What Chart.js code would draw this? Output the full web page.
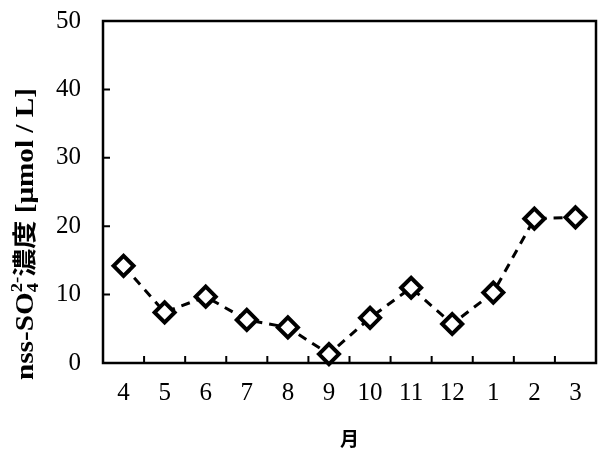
<!DOCTYPE html>
<html>
<head>
<meta charset="utf-8">
<script src="https://cdn.jsdelivr.net/npm/chart.js@4/dist/chart.umd.min.js"></script>
<style>
  html, body { margin: 0; padding: 0; background: #fff; }
  #wrap { width: 610px; height: 450px; }
</style>
</head>
<body>
<div id="wrap"><canvas id="chart"></canvas></div>
<script>
// months (April to March) and nss-SO4 2- concentration [umol / L]
const months = ['4', '5', '6', '7', '8', '9', '10', '11', '12', '1', '2', '3'];
const concentration = [14.2, 7.4, 9.7, 6.3, 5.2, 1.3, 6.6, 11.0, 5.7, 10.3, 21.1, 21.3];
const yTicks = [0, 10, 20, 30, 40, 50];

const serif = "'Liberation Serif', 'Times New Roman', serif";
const cjk = "'Noto Sans CJK JP', sans-serif";

// box around the plot + tick marks pointing inward
const frame = {
    id: 'frame',
    beforeDatasetsDraw(chart) {
        const { ctx, chartArea: a } = chart;
        const x = chart.scales.x, y = chart.scales.y;
        ctx.save();
        ctx.strokeStyle = '#000';
        ctx.lineWidth = 2.5;
        ctx.strokeRect(a.left, a.top, a.right - a.left, a.bottom - a.top);
        ctx.lineWidth = 2;
        ctx.beginPath();
        yTicks.slice(1, -1).forEach(v => {
            const py = y.getPixelForValue(v);
            ctx.moveTo(a.left, py);
            ctx.lineTo(a.left + 7, py);
        });
        for (let i = 1; i < months.length; i++) {
            const px = (x.getPixelForValue(i - 1) + x.getPixelForValue(i)) / 2;
            ctx.moveTo(px, a.bottom);
            ctx.lineTo(px, a.bottom - 7);
        }
        ctx.stroke();
        ctx.restore();
    }
};

// y title with sub/superscript: nss-SO4^2- 濃度 [μmol / L]
const yTitle = {
    id: 'yTitle',
    afterDraw(chart) {
        const ctx = chart.ctx;
        const size = 25;
        const small = 16;
        const parts = [
            { t: 'nss-SO', font: `bold ${size}px ${serif}`, dy: 0 },
            { t: '4', font: `bold ${small}px ${serif}`, dy: 5, keep: true },
            { t: '2-', font: `bold ${small}px ${serif}`, dy: -11 },
            { t: '濃度', font: `bold ${size - 1}px ${cjk}`, dy: 0 },
            { t: ' [μmol / L]', font: `bold ${size}px ${serif}`, dy: 0 }
        ];
        ctx.save();
        let total = 0;
        const widths = parts.map(p => { ctx.font = p.font; return ctx.measureText(p.t).width; });
        parts.forEach((p, i) => { if (!p.keep) total += widths[i]; });
        const target = 292;
        ctx.translate(33, 380);
        ctx.rotate(-Math.PI / 2);
        ctx.scale(target / total, 1);
        ctx.fillStyle = '#000';
        ctx.textBaseline = 'alphabetic';
        let pos = 0;
        parts.forEach((p, i) => {
            ctx.font = p.font;
            ctx.fillText(p.t, pos, p.dy);
            if (!p.keep) pos += widths[i];
        });
        ctx.restore();
    }
};

new Chart(document.getElementById('chart'), {
    type: 'line',
    data: {
        labels: months,
        datasets: [{
            data: concentration,
            borderColor: '#000',
            borderWidth: 3,
            borderDash: [9, 7],
            fill: false,
            tension: 0,
            pointStyle: 'rectRot',
            pointRadius: 10,
            pointHoverRadius: 10,
            pointBorderWidth: 4,
            pointBackgroundColor: '#fff',
            pointBorderColor: '#000',
            clip: false
        }]
    },
    options: {
        responsive: true,
        maintainAspectRatio: false,
        animation: false,
        layout: { padding: { top: 21, right: 11, left: 0, bottom: 0 } },
        plugins: { legend: { display: false }, tooltip: { enabled: false } },
        scales: {
            x: {
                offset: true,
                grid: { display: false, drawTicks: false },
                border: { display: false },
                ticks: { color: '#000', font: { family: serif, size: 25 }, padding: 15, maxRotation: 0 },
                title: {
                    display: true,
                    text: '月',
                    color: '#000',
                    font: { family: cjk, size: 19, weight: 'bold' },
                    padding: { top: 0, bottom: 0 }
                },
                afterFit(scale) {
                    scale.height = 87;
                    scale.paddingLeft = 0;
                    scale.paddingRight = 0;
                }
            },
            y: {
                min: 0,
                max: 50,
                grid: { display: false, drawTicks: false },
                border: { display: false },
                afterBuildTicks(scale) { scale.ticks = yTicks.map(v => ({ value: v })); },
                ticks: { color: '#000', font: { family: serif, size: 25 }, padding: 22 },
                afterFit(scale) {
                    scale.width = 103;
                    scale.paddingTop = 0;
                    scale.paddingBottom = 0;
                }
            }
        }
    },
    plugins: [frame, yTitle]
});
</script>
</body>
</html>
